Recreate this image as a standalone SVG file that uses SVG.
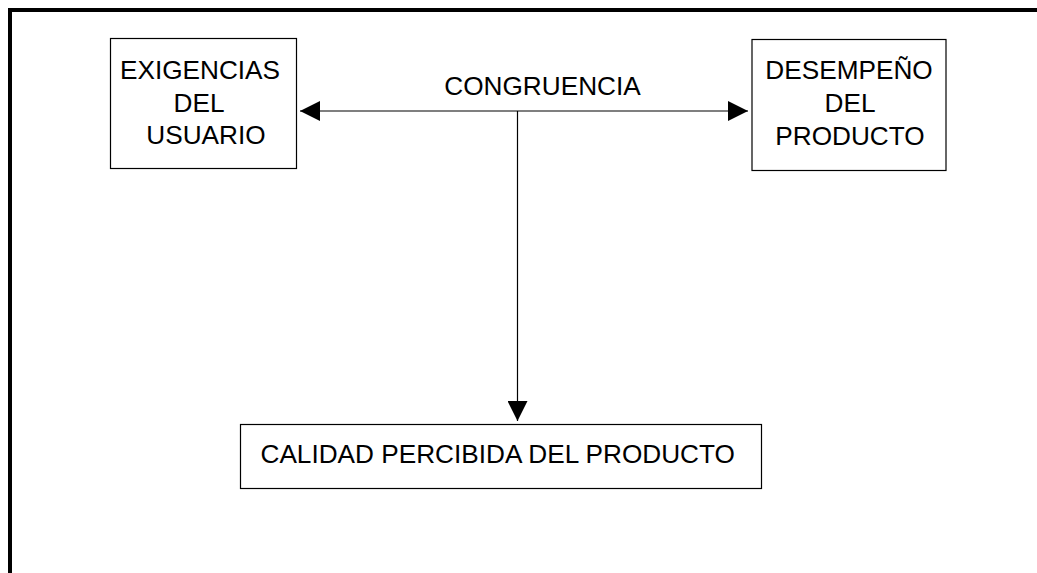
<svg xmlns="http://www.w3.org/2000/svg" width="1037" height="573" viewBox="0 0 1037 573">
<style>
.box{fill:#fff;stroke:#000;stroke-width:1.2}
.t{font-family:"Liberation Sans",Arial,sans-serif;font-size:26.2px;fill:#000;text-anchor:middle}
.c{stroke:#000;stroke-width:1.2;fill:none}
</style>
<defs>
<marker id="ah" viewBox="0 0 20 20" refX="20" refY="10" markerWidth="20" markerHeight="20" markerUnits="userSpaceOnUse" orient="auto-start-reverse">
<path d="M0,0 L20,10 L0,20 Z" fill="#000"/>
</marker>
</defs>
<rect width="1037" height="573" fill="#fff"/>
<g id="frame">
<path d="M10,573 L10,10 L1037,10" fill="none" stroke="#000" stroke-width="4"/>
</g>
<g id="connectors">
<line class="c" x1="300" y1="111" x2="748" y2="111" marker-start="url(#ah)" marker-end="url(#ah)"/>
<line class="c" x1="517.5" y1="111" x2="517.5" y2="421" marker-end="url(#ah)"/>
<text class="t" x="542.5" y="95">CONGRUENCIA</text>
</g>
<g id="exigencias">
<rect class="box" x="110.5" y="38.5" width="186" height="130"/>
<text class="t" x="200" y="79">EXIGENCIAS</text>
<text class="t" x="199" y="111.5">DEL</text>
<text class="t" x="206" y="143.5">USUARIO</text>
</g>
<g id="desempeno">
<rect class="box" x="752" y="39.5" width="194" height="131"/>
<text class="t" x="849" y="79">DESEMPEÑO</text>
<text class="t" x="850" y="111.5">DEL</text>
<text class="t" x="850" y="145">PRODUCTO</text>
</g>
<g id="calidad">
<rect class="box" x="240.5" y="424.5" width="521" height="64"/>
<text class="t" x="497.7" y="463">CALIDAD PERCIBIDA DEL PRODUCTO</text>
</g>
</svg>
